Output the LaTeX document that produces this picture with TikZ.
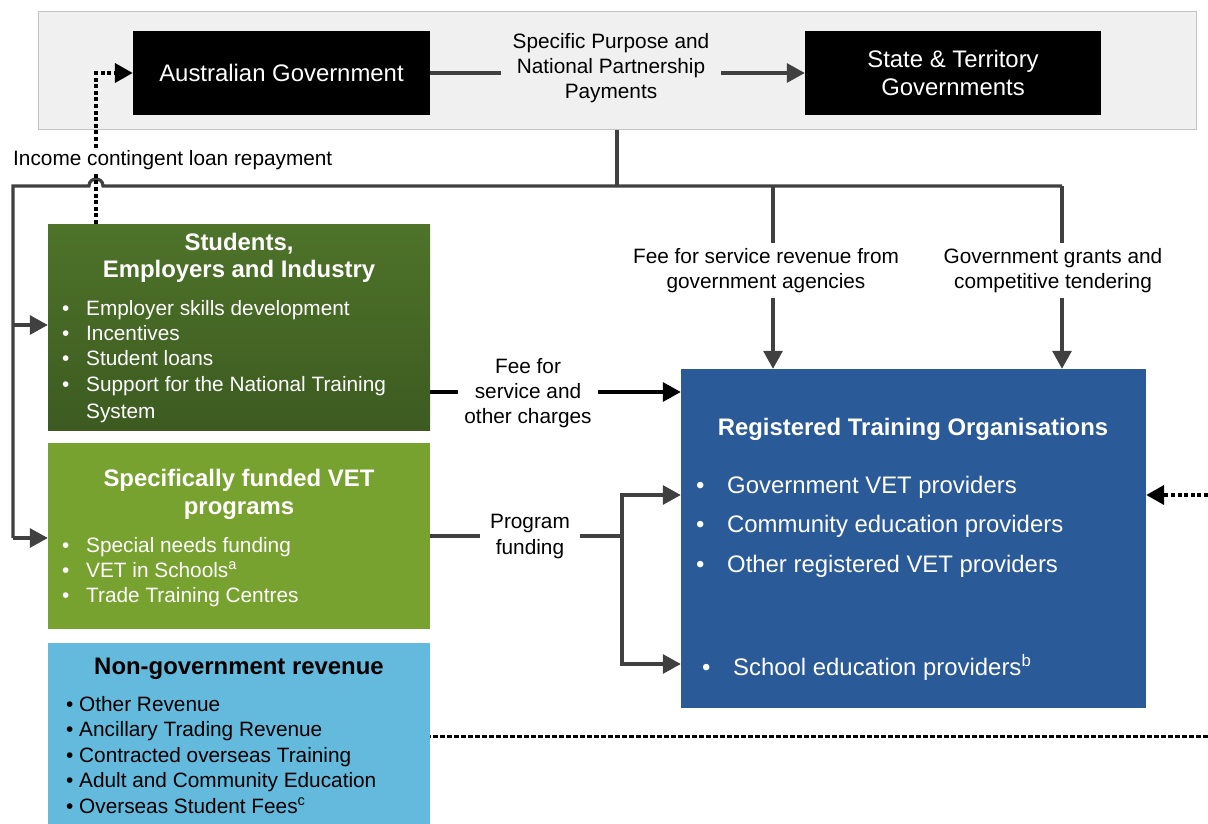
\documentclass[tikz,border=0pt]{standalone}
\usepackage{fontspec}
\setmainfont{Liberation Sans}
\usetikzlibrary{arrows.meta}
\definecolor{bandfill}{HTML}{F0F0F0}
\definecolor{banddraw}{HTML}{C4C4C4}
\definecolor{gtop}{RGB}{78,115,41}
\definecolor{gbot}{RGB}{61,91,33}
\definecolor{vetgreen}{HTML}{78A22F}
\definecolor{ngblue}{HTML}{63BADC}
\definecolor{rtoblue}{HTML}{2A5A98}
\definecolor{lgray}{HTML}{404040}
\newcommand\mybul[1]{\makebox[#1][l]{\textbullet}}
\tikzset{
  sm/.style={font=\fontsize{20.8}{25}\selectfont},
  lg/.style={font=\fontsize{23.9}{28}\selectfont},
  bd/.style={font=\fontsize{23.9}{27.5}\selectfont\bfseries},
  tx/.style={inner sep=0pt, anchor=base west},
  boxnode/.style={inner sep=0pt, draw=none},
  gline/.style={draw=lgray, line width=3.2pt},
  garrow/.style={gline, -{Triangle[length=18pt,width=19pt]}},
  bline/.style={draw=black, line width=3.2pt},
  barrow/.style={bline, -{Triangle[length=18pt,width=19pt]}},
  dotline/.style={draw=black, line width=4pt, dash pattern=on 4pt off 2.6pt},
  dotarrow/.style={dotline, -{Triangle[length=18pt,width=19pt]}},
  dashline/.style={draw=black, line width=3pt, dash pattern=on 5pt off 2pt},
}
\begin{document}
\begin{tikzpicture}[x=1pt,y=-1pt]
\useasboundingbox (0,0) rectangle (1208,824);
% boxes
\node[boxnode, fill=bandfill, draw=banddraw, line width=1pt, minimum width=1158pt, minimum height=118pt] (band) at (617,71) {};
\node[boxnode, fill=black, minimum width=297pt, minimum height=84pt, text=white, lg] (aus) at (281.5,73) {Australian Government};
\node[boxnode, fill=black, minimum width=296pt, minimum height=84pt, text=white, lg, align=center] (state) at (953,73) {State \& Territory\\Governments};
\node[boxnode, top color=gtop, bottom color=gbot, minimum width=382pt, minimum height=206pt] (stu) at (239,327) {};
\node[boxnode, fill=vetgreen, minimum width=382pt, minimum height=186pt] (vet) at (239,536) {};
\node[boxnode, fill=ngblue, minimum width=382pt, minimum height=181pt] (ng) at (239,733.5) {};
\node[boxnode, fill=rtoblue, minimum width=465pt, minimum height=339pt] (rto) at (913.5,538.5) {};

% box texts
\node[bd, text=white, align=center, inner sep=0pt] (stut) at (239,258) {Students,\\Employers and Industry};
\node[tx, sm, text=white] (s1) at (62,315) {\mybul{24pt}Employer skills development};
\node[tx, sm, text=white] (s2) at (62,340) {\mybul{24pt}Incentives};
\node[tx, sm, text=white] (s3) at (62,365) {\mybul{24pt}Student loans};
\node[tx, sm, text=white] (s4) at (62,391) {\mybul{24pt}Support for the National Training};
\node[tx, sm, text=white] (s5) at (86,418) {System};

\node[text=white, align=center, inner sep=0pt, font=\fontsize{23.9}{28}\selectfont\bfseries] (vett) at (239,494.3) {Specifically funded VET\\programs};
\node[tx, sm, text=white] (v1) at (62,552) {\mybul{24pt}Special needs funding};
\node[tx, sm, text=white] (v2) at (62,577) {\mybul{24pt}VET in Schools\textsuperscript{a}};
\node[tx, sm, text=white] (v3) at (62,602) {\mybul{24pt}Trade Training Centres};

\node[bd, text=black, inner sep=0pt] (ngt) at (239,669.3) {Non-government revenue};
\node[tx, sm] (n1) at (66,711) {\mybul{13pt}Other Revenue};
\node[tx, sm] (n2) at (66,736) {\mybul{13pt}Ancillary Trading Revenue};
\node[tx, sm] (n3) at (66,762) {\mybul{13pt}Contracted overseas Training};
\node[tx, sm] (n4) at (66,787) {\mybul{13pt}Adult and Community Education};
\node[tx, sm] (n5) at (66,813) {\mybul{13pt}Overseas Student Fees\textsuperscript{c}};

\node[bd, text=white, inner sep=0pt] (rtot) at (913,429.3) {Registered Training Organisations};
\node[tx, lg, text=white] (r1) at (696,493.5) {\mybul{31pt}Government VET providers};
\node[tx, lg, text=white] (r2) at (696,532.5) {\mybul{31pt}Community education providers};
\node[tx, lg, text=white] (r3) at (696,572.5) {\mybul{31pt}Other registered VET providers};
\node[tx, lg, text=white] (r4) at (702,675.5) {\mybul{31pt}School education providers\textsuperscript{b}};

% labels
\node[sm, align=center, inner xsep=12pt, inner ysep=0pt] (spp) at (611,68) {Specific Purpose and\\National Partnership\\Payments};
\node[sm, anchor=west, inner xsep=0pt, inner ysep=2.5pt] (inc) at (13,160) {Income contingent loan repayment};
\node[sm, align=center, inner xsep=2pt, inner ysep=5pt] (fsr) at (766,270.5) {Fee for service revenue from\\government agencies};
\node[sm, align=center, inner xsep=2pt, inner ysep=5pt] (gg) at (1053,270.5) {Government grants and\\competitive tendering};
\node[sm, align=center, inner xsep=6pt, inner ysep=0pt] (fsoc) at (528,393) {Fee for\\service and\\other charges};
\node[sm, align=center, inner xsep=10pt, inner ysep=0pt] (pf) at (530,536.5) {Program\\funding};

% coordinates
\coordinate (j0) at (617,186);
\coordinate (tl) at (13,186);
\coordinate (tm) at (773,186);
\coordinate (tr) at (1062,186);
\coordinate (ya) at (13,325);
\coordinate (yb) at (13,538);
\coordinate (fy) at (0,392);
\coordinate (jx) at (622,536);
\coordinate (p1) at (622,495);
\coordinate (p2) at (622,664);
\coordinate (dx) at (96,224);
\coordinate (ra) at (1208,495);
\coordinate (rb) at (1208,736);

% connectors
\draw[gline] (aus.east) -- (spp.west |- aus.east);
\draw[garrow] (spp.east |- aus.east) -- (state.west);
\draw[gline] (band.south -| j0) -- (j0);
\draw[gline, line join=miter] (tr) -- (103,186) .. controls (103,176.7) and (89,176.7) .. (89,186) -- (tl) -- (yb);
\draw[garrow] (ya) -- (stu.west |- ya);
\draw[garrow] (yb) -- (vet.west |- yb);
\draw[gline] (tm) -- (fsr.north -| tm);
\draw[garrow] (fsr.south -| tm) -- (rto.north -| tm);
\draw[gline] (tr) -- (gg.north -| tr);
\draw[garrow] (gg.south -| tr) -- (rto.north -| tr);
\draw[bline] (stu.east |- fy) -- (fsoc.west |- fy);
\draw[barrow] (fsoc.east |- fy) -- (rto.west |- fy);
\draw[gline] (vet.east |- jx) -- (pf.west |- jx);
\draw[gline] (pf.east |- jx) -- (jx);
\draw[garrow] (jx) |- (rto.west |- p1);
\draw[garrow] (jx) |- (rto.west |- p2);
\draw[dotline] (dx) -- (inc.south -| dx);
\draw[dotarrow] (inc.north -| dx) |- (aus.west);
\draw[dotarrow] (ra) -- (rto.east |- ra);
\draw[dashline] (rb) -- (ng.east |- rb);
\end{tikzpicture}
\end{document}
